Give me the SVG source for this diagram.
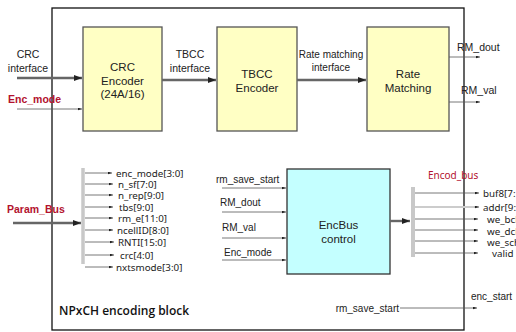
<svg xmlns="http://www.w3.org/2000/svg" width="516" height="332" viewBox="0 0 516 332">
  <defs>
    <marker id="tip" viewBox="0 0 6 4" refX="6" refY="2" markerWidth="4" markerHeight="3" markerUnits="userSpaceOnUse" orient="auto">
      <path d="M0,0 L6,2 L0,4 z" fill="#222"/>
    </marker>
    <marker id="tipBig" viewBox="0 0 8 6" refX="8" refY="3" markerWidth="8" markerHeight="6" markerUnits="userSpaceOnUse" orient="auto">
      <path d="M0,0 L8,3 L0,6 z" fill="#222"/>
    </marker>
  </defs>
  <style>
    .blk { fill: #ffffc4; stroke: #555; stroke-width: 1.3; }
    .ctl { fill: #c4ffff; stroke: #333; stroke-width: 1.3; }
    .t { font-family: "Liberation Sans", Arial, sans-serif; fill: #222; }
    .big { font-size: 11.5px; }
    .sm { font-size: 10px; }
    .lbl { font-size: 10.5px; }
    .n { font-family: "Noto Sans", "Open Sans", sans-serif; font-size: 9.8px; fill: #222; }
    .red { font-family: "Liberation Sans", Arial, sans-serif; font-weight: bold; font-size: 10.5px; fill: #b3122e; }
    .thin { stroke: #555; stroke-width: 0.8; fill: none; marker-end: url(#tip); }
    .thick { stroke: #666; stroke-width: 2.4; fill: none; marker-end: url(#tipBig); }
    .bus { stroke: #c8c8c8; fill: none; }
  </style>

  <!-- enclosing block -->
  <g id="npxch-block">
    <rect x="52" y="8" width="412" height="322" fill="none" stroke="#111" stroke-width="1.3"/>
    <text x="59" y="315" font-family="'Open Sans', 'Noto Sans', sans-serif" font-weight="600" font-size="12" fill="#111">NPxCH encoding block</text>
  </g>

  <!-- processing chain -->
  <g id="crc-encoder">
    <rect class="blk" x="83" y="27" width="79" height="104"/>
    <text class="t big" text-anchor="middle" x="122.5" y="71">CRC</text>
    <text class="t big" text-anchor="middle" x="122.5" y="84.5">Encoder</text>
    <text class="t big" text-anchor="middle" x="122.5" y="98">(24A/16)</text>
  </g>
  <g id="tbcc-encoder">
    <rect class="blk" x="217" y="27" width="80" height="104"/>
    <text class="t big" text-anchor="middle" x="257" y="77.5">TBCC</text>
    <text class="t big" text-anchor="middle" x="257" y="91.5">Encoder</text>
  </g>
  <g id="rate-matching">
    <rect class="blk" x="367" y="27" width="82" height="104"/>
    <text class="t big" text-anchor="middle" x="408" y="78">Rate</text>
    <text class="t big" text-anchor="middle" x="408" y="92">Matching</text>
  </g>
  <g id="encbus-control">
    <rect class="ctl" x="287" y="169" width="103" height="105"/>
    <text class="t big" text-anchor="middle" x="338.5" y="229">EncBus</text>
    <text class="t big" text-anchor="middle" x="338.5" y="243">control</text>
  </g>

  <!-- parameter bus fan-out -->
  <g id="param-bus">
    <line class="bus" x1="83" y1="168" x2="83" y2="264" stroke-width="3.5"/>
    <g class="n">
      <text x="116" y="177">enc_mode[3:0]</text>
      <text x="118" y="188">n_sf[7:0]</text>
      <text x="118" y="199">n_rep[9:0]</text>
      <text x="119" y="211">tbs[9:0]</text>
      <text x="118" y="222">rm_e[11:0]</text>
      <text x="117" y="234">ncellID[8:0]</text>
      <text x="118" y="246">RNTI[15:0]</text>
      <text x="120" y="259">crc[4:0]</text>
      <text x="116" y="271">nxtsmode[3:0]</text>
    </g>
  </g>

  <!-- encoded output bus fan-out -->
  <g id="encod-bus">
    <line class="bus" x1="413" y1="187" x2="413" y2="257" stroke-width="4"/>
    <text x="428" y="178.5" font-family="'Noto Sans', 'Open Sans', sans-serif" font-size="10" fill="#b3122e">Encod_bus</text>
    <g class="n">
      <text x="483" y="197">buf8[7:</text>
      <text x="483" y="211">addr[9:</text>
      <text x="487" y="223">we_bch</text>
      <text x="487" y="235">we_dch</text>
      <text x="487" y="246">we_sch</text>
      <text x="492" y="257">valid</text>
    </g>
  </g>

  <!-- port labels -->
  <g id="ports">
    <text class="t lbl" text-anchor="middle" x="28" y="58">CRC</text>
    <text class="t lbl" text-anchor="middle" x="28" y="72">interface</text>
    <text class="red" x="8" y="102.5">Enc_mode</text>
    <text class="red" x="7" y="213">Param_Bus</text>
    <text class="t lbl" text-anchor="middle" x="190" y="58">TBCC</text>
    <text class="t lbl" text-anchor="middle" x="190" y="72">interface</text>
    <text class="t sm" text-anchor="middle" x="331" y="57.5">Rate matching</text>
    <text class="t sm" text-anchor="middle" x="331" y="71">interface</text>
    <text class="t lbl" x="457" y="51">RM_dout</text>
    <text class="t lbl" x="461" y="94">RM_val</text>
    <text class="t sm" x="216" y="183">rm_save_start</text>
    <text class="t sm" x="220" y="206">RM_dout</text>
    <text class="t sm" x="222" y="231">RM_val</text>
    <text class="t sm" x="224" y="256">Enc_mode</text>
    <text class="t sm" text-anchor="end" x="399" y="312">rm_save_start</text>
    <text class="t sm" x="471" y="300">enc_start</text>
  </g>

  <!-- connectors -->
  <g id="connectors">
    <line class="thick" x1="17" y1="78" x2="82" y2="78"/>
    <line class="thin" x1="17" y1="109" x2="82" y2="109"/>
    <line class="thick" x1="162" y1="80" x2="216" y2="80"/>
    <line class="thick" x1="297" y1="80" x2="366" y2="80"/>
    <line class="thin" x1="449" y1="57" x2="480" y2="57"/>
    <line class="thin" x1="449" y1="102" x2="480" y2="102"/>
    <line class="thick" x1="13" y1="223" x2="81" y2="223"/>

    <line class="thin" x1="85" y1="173" x2="112" y2="173"/>
    <line class="thin" x1="85" y1="184" x2="113" y2="184"/>
    <line class="thin" x1="85" y1="195" x2="113" y2="195"/>
    <line class="thin" x1="85" y1="207" x2="113" y2="207"/>
    <line class="thin" x1="85" y1="218" x2="113" y2="218"/>
    <line class="thin" x1="85" y1="230" x2="113" y2="230"/>
    <line class="thin" x1="85" y1="242" x2="114" y2="242"/>
    <line class="thin" x1="85" y1="255" x2="114" y2="255"/>
    <line class="thin" x1="85" y1="267" x2="113" y2="267"/>

    <line class="thin" x1="222" y1="188" x2="286" y2="188"/>
    <line class="thin" x1="222" y1="212" x2="286" y2="212"/>
    <line class="thin" x1="222" y1="238" x2="286" y2="238"/>
    <line class="thin" x1="222" y1="260" x2="286" y2="260"/>

    <line class="thick" x1="390" y1="221" x2="410" y2="221"/>

    <line class="thin" x1="415" y1="193" x2="479" y2="193"/>
    <line x1="415" y1="207" x2="474" y2="207" stroke="#ccc" stroke-width="2.2"/>
    <line class="thin" x1="474" y1="207" x2="479" y2="207"/>
    <line class="thin" x1="415" y1="219" x2="478" y2="219"/>
    <line class="thin" x1="415" y1="230" x2="478" y2="230"/>
    <line class="thin" x1="415" y1="241" x2="478" y2="241"/>
    <line class="thin" x1="415" y1="253" x2="478" y2="253"/>

    <line class="thin" x1="400" y1="308" x2="477" y2="308"/>
  </g>
</svg>
